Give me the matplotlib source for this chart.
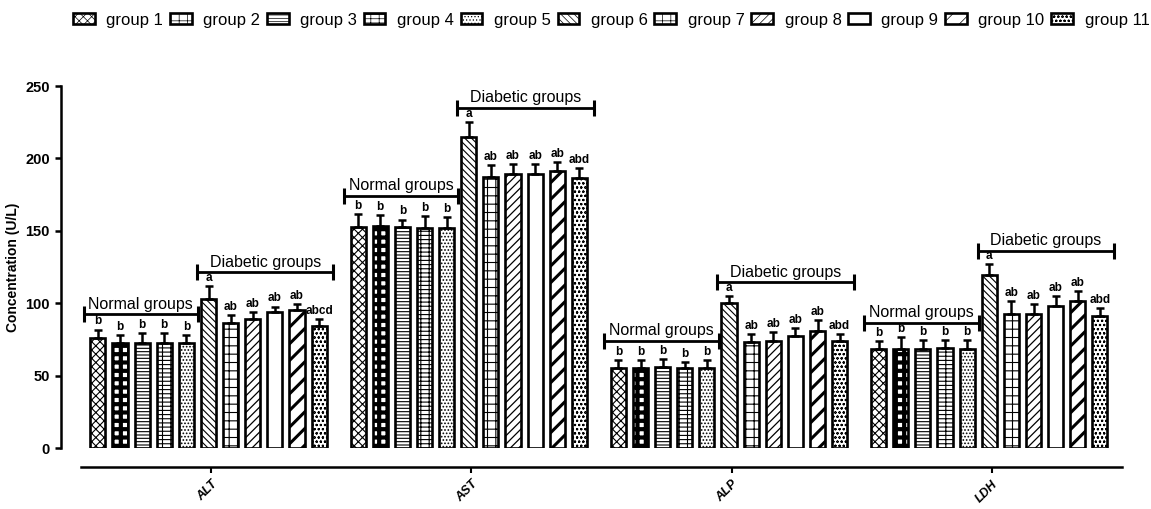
import matplotlib
matplotlib.use('Agg')
import matplotlib.pyplot as plt
import numpy as np

# data
enzymes = ['ALT', 'AST', 'ALP', 'LDH']
groups = ['group %d' % i for i in range(1, 12)]

# mean values per group for each enzyme
alt_mean = [75.8, 72.7, 72.7, 72.7, 72.7, 102.7, 86.5, 88.9, 93.7, 95.3, 84.3]
ast_mean = [152.8, 153.3, 152.8, 152.2, 152.2, 215.0, 187.4, 189.0, 189.0, 191.3, 186.2]
alp_mean = [55.5, 55.5, 55.7, 55.5, 55.5, 100.4, 73.0, 74.1, 77.6, 80.8, 73.9]
ldh_mean = [68.4, 68.4, 68.4, 68.8, 68.4, 119.5, 92.3, 92.5, 98.0, 101.7, 91.2]

alt_err = [6.0, 5.5, 7.0, 6.5, 5.5, 9.0, 5.5, 5.0, 4.0, 4.0, 4.5]
ast_err = [9.0, 7.5, 5.0, 8.0, 7.0, 10.0, 8.0, 7.0, 7.0, 6.5, 7.0]
alp_err = [5.0, 5.5, 6.0, 4.0, 5.5, 4.5, 5.5, 6.0, 5.0, 7.5, 5.0]
ldh_err = [5.5, 8.0, 6.0, 6.0, 6.0, 7.5, 9.5, 7.0, 7.0, 6.5, 5.3]

alt_sig = ['b'] * 5 + ['a', 'ab', 'ab', 'ab', 'ab', 'abcd']
ast_sig = ['b'] * 5 + ['a', 'ab', 'ab', 'ab', 'ab', 'abd']
alp_sig = ['b'] * 5 + ['a', 'ab', 'ab', 'ab', 'ab', 'abd']
ldh_sig = ['b'] * 5 + ['a', 'ab', 'ab', 'ab', 'ab', 'abd']

# bracket heights (normal, diabetic) per enzyme
normal_bracket_y = [92.3, 174.0, 74.1, 86.5]
diabetic_bracket_y = [121.3, 235.0, 114.4, 136.3]

means = np.array([alt_mean, ast_mean, alp_mean, ldh_mean])
errs = np.array([alt_err, ast_err, alp_err, ldh_err])
sigs = [alt_sig, ast_sig, alp_sig, ldh_sig]

# hatch pattern and hatch line width per group
hatches = ['xxxx', '++', '-----', '----||', '.....', '\\\\\\\\\\', '++', '////', '', '//', 'oooo']
hatch_lw = [0.8, 3.0, 0.8, 0.8, 0.8, 0.8, 0.8, 0.9, 0.8, 2.2, 0.5]

plt.rcParams['font.family'] = ['Liberation Sans', 'DejaVu Sans']
plt.rcParams['axes.linewidth'] = 1.8

fig = plt.figure(figsize=(11.51, 5.09), dpi=100)
ax = fig.add_axes([81 / 1151, 1 - 448 / 509, 1041 / 1151, 362 / 509])

# offset spines first (this resets tick label styling)
ax.spines['top'].set_visible(False)
ax.spines['right'].set_visible(False)
ax.spines['left'].set_position(('outward', 14.4))
ax.spines['bottom'].set_position(('outward', 13.7))

x = np.arange(len(enzymes))
slot = 0.085
width = 0.058

handles = []
for j in range(len(groups)):
    plt.rcParams['hatch.linewidth'] = hatch_lw[j]
    xs = x + (j - 5) * slot - 0.01
    b = ax.bar(xs, means[:, j], width, color='white', edgecolor='black',
               linewidth=1.9, hatch=hatches[j], label=groups[j],
               yerr=[np.zeros(len(enzymes)), errs[:, j]],
               error_kw=dict(elinewidth=1.8, capsize=3.2, capthick=1.8, ecolor='black'),
               zorder=3)
    handles.append(b)
    for i in range(len(enzymes)):
        ax.annotate(sigs[i][j], (xs[i], means[i, j] + errs[i, j]),
                    xytext=(0, 1.5), textcoords='offset points',
                    ha='center', va='bottom', fontsize=8.5, fontweight='bold')

# group brackets
for i in range(len(enzymes)):
    for (x0, x1), yb, txt in [((-0.49, -0.05), normal_bracket_y[i], 'Normal groups'),
                              ((-0.055, 0.47), diabetic_bracket_y[i], 'Diabetic groups')]:
        ax.plot([x[i] + x0, x[i] + x1], [yb, yb], color='black', lw=2,
                marker='|', markersize=11, markeredgewidth=2.2, zorder=4)
        ax.annotate(txt, (x[i] + (x0 + x1) / 2, yb), xytext=(0, 4),
                    textcoords='offset points', ha='center', va='baseline',
                    fontsize=11.5)

ax.set_xlim(-0.5, 3.5)
ax.set_ylim(0, 250)
ax.set_yticks([0, 50, 100, 150, 200, 250])
ax.set_yticklabels(['0', '50', '100', '150', '200', '250'], fontsize=10.5, fontweight='bold')
ax.set_xticks(x)
ax.set_xticklabels(enzymes, rotation=45, ha='right', va='top', rotation_mode='anchor',
                   fontsize=9, fontweight='bold', fontstyle='italic')
ax.tick_params(axis='y', width=1.8, length=4.5)
ax.tick_params(axis='x', width=1.5, length=4.5)
ax.set_ylabel('Concentration (U/L)', fontsize=10, fontweight='bold', labelpad=4)

fig.legend(handles=handles, labels=groups, ncol=11, loc='center left',
           bbox_to_anchor=(73 / 1151, 1 - 20 / 509), frameon=False, fontsize=12,
           handlelength=1.3, handleheight=0.6, handletextpad=0.7,
           columnspacing=0.4, borderpad=0, borderaxespad=0)

fig.savefig('out.png', dpi=100)
